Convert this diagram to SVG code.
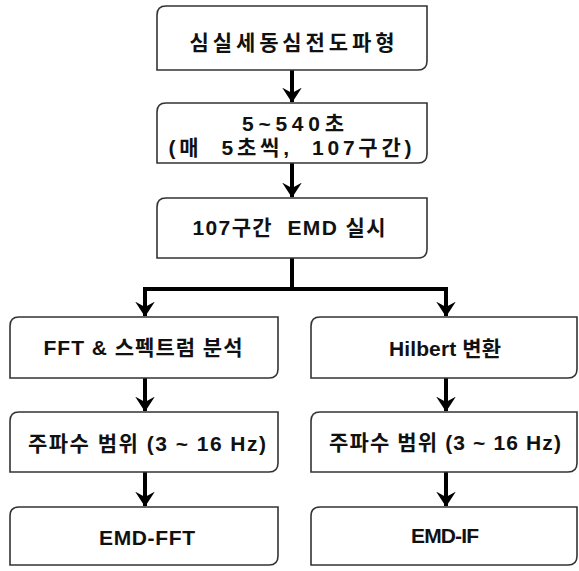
<svg xmlns="http://www.w3.org/2000/svg" width="579" height="571" viewBox="0 0 579 571">
<defs>
<style>
.box{fill:#fff;stroke:#333;stroke-width:1.6}
.t{font-family:"Liberation Sans","Noto Sans CJK KR",sans-serif;font-size:21px;font-weight:bold;fill:#111;text-anchor:middle;white-space:pre}
.c{fill:none;stroke:#000;stroke-width:4}
</style>
<marker id="ah" viewBox="0 0 10 14" refX="9.5" refY="7" markerWidth="3.8" markerHeight="5.3" orient="auto" markerUnits="strokeWidth">
<path d="M0,0.5 L10,7 L0,13.5 L3.5,7 Z" fill="#000"/>
</marker>
</defs>
<rect width="579" height="571" fill="#fff"/>
<g id="connectors">
<path class="c" d="M292,70 V102" marker-end="url(#ah)"/>
<path class="c" d="M292,163 V197" marker-end="url(#ah)"/>
<path class="c" d="M292,258 V289 M145,289 H446"/>
<path class="c" d="M145,287 V316" marker-end="url(#ah)"/>
<path class="c" d="M446,287 V316" marker-end="url(#ah)"/>
<path class="c" d="M145,378 V411" marker-end="url(#ah)"/>
<path class="c" d="M446,378 V411" marker-end="url(#ah)"/>
<path class="c" d="M145,472 V506" marker-end="url(#ah)"/>
<path class="c" d="M446,472 V506" marker-end="url(#ah)"/>
</g>
<g id="n1">
<path class="box" d="M166,6 H427 V61 Q427,70 418,70 H157 V15 Q157,6 166,6 Z"/>
<text class="t" x="292" y="50" textLength="205" lengthAdjust="spacing">심실세동심전도파형</text>
</g>
<g id="n2">
<path class="box" d="M166,103 H427 V154 Q427,163 418,163 H157 V112 Q157,103 166,103 Z"/>
<text class="t" x="293" y="131" textLength="102" lengthAdjust="spacing">5~540초</text>
<text class="t" x="290" y="155" textLength="243" lengthAdjust="spacing" xml:space="preserve">(매  5초씩,  107구간)</text>
</g>
<g id="n3">
<path class="box" d="M166,198 H427 V249 Q427,258 418,258 H157 V207 Q157,198 166,198 Z"/>
<text class="t" x="289" y="235" textLength="193" lengthAdjust="spacing" xml:space="preserve">107구간  EMD 실시</text>
</g>
<g id="n4">
<path class="box" d="M19,317 H278 V369 Q278,378 269,378 H10 V326 Q10,317 19,317 Z"/>
<text class="t" x="143" y="355" textLength="199" lengthAdjust="spacing">FFT &amp; 스펙트럼 분석</text>
</g>
<g id="n5">
<path class="box" d="M19,412 H278 V463 Q278,472 269,472 H10 V421 Q10,412 19,412 Z"/>
<text class="t" x="147" y="451" textLength="238" lengthAdjust="spacing">주파수 범위 (3 ~ 16 Hz)</text>
</g>
<g id="n6">
<path class="box" d="M19,507 H278 V556 Q278,565 269,565 H10 V516 Q10,507 19,507 Z"/>
<text class="t" x="147" y="545" textLength="96" lengthAdjust="spacing">EMD-FFT</text>
</g>
<g id="n7">
<path class="box" d="M320,317 H577 V369 Q577,378 568,378 H311 V326 Q311,317 320,317 Z"/>
<text class="t" x="445" y="356" textLength="112" lengthAdjust="spacing">Hilbert 변환</text>
</g>
<g id="n8">
<path class="box" d="M320,412 H577 V463 Q577,472 568,472 H311 V421 Q311,412 320,412 Z"/>
<text class="t" x="445" y="450" textLength="232" lengthAdjust="spacing">주파수 범위 (3 ~ 16 Hz)</text>
</g>
<g id="n9">
<path class="box" d="M320,507 H577 V556 Q577,565 568,565 H311 V516 Q311,507 320,507 Z"/>
<text class="t" x="445" y="543" textLength="68" lengthAdjust="spacing">EMD-IF</text>
</g>
</svg>
